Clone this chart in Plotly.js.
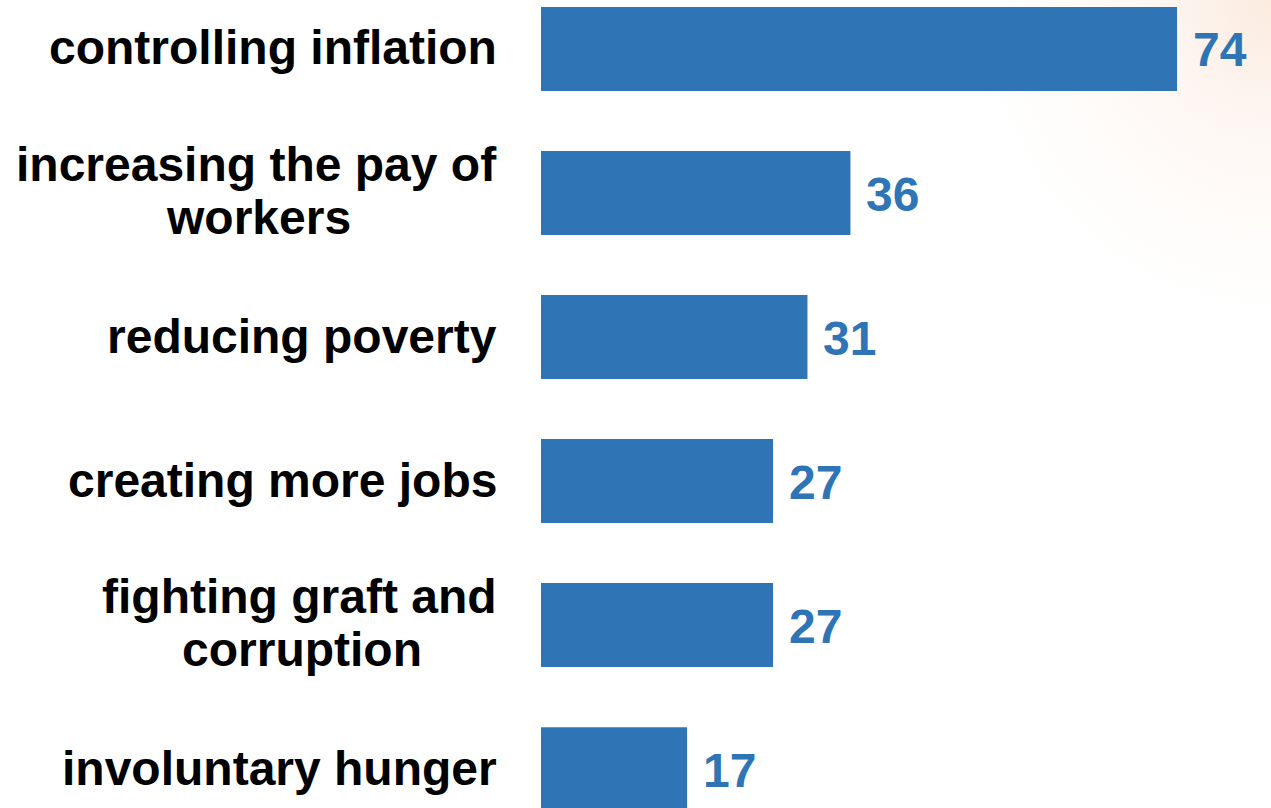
<!DOCTYPE html>
<html>
<head>
<meta charset="utf-8">
<script src="https://cdn.plot.ly/plotly-3.0.1.min.js"></script>
<style>
html, body { margin:0; padding:0; width:1271px; height:808px; overflow:hidden;
  background: radial-gradient(ellipse 300px 320px at 100% 0%, rgba(250,228,212,0.75) 0%, rgba(252,240,232,0.45) 45%, rgba(255,255,255,0) 100%), #ffffff; }
#chart { width:1271px; height:808px; }
</style>
</head>
<body>
<div id="chart"></div>
<script>
// Data
const categories = [
  ["controlling inflation"],
  ["increasing the pay of", "workers"],
  ["reducing poverty"],
  ["creating more jobs"],
  ["fighting graft and", "corruption"],
  ["involuntary hunger"]
];
const values = [74, 36, 31, 27, 27, 17];
const valueLabels = ["74", "36", "31", "27", "27", "17"];

const barColor = "#2f75b5";
const fontFamily = "'Liberation Sans', Arial, sans-serif";
const fontSize = 48;
const catKeys = categories.map(c => c.join(" "));

const ctx = document.createElement("canvas").getContext("2d");
ctx.font = "bold " + fontSize + "px 'Liberation Sans'";

const annotations = [];
categories.forEach((lines, i) => {
  if (lines.length === 1) {
    annotations.push({
      x: 0, xref: "paper", y: catKeys[i], yref: "y",
      xanchor: "right", yanchor: "middle", xshift: -42, yshift: 1,
      text: lines[0], showarrow: false,
      font: {family: fontFamily, size: fontSize, color: "#000", weight: 700}
    });
  } else {
    const w1 = ctx.measureText(lines[0]).width;
    annotations.push({
      x: 0, xref: "paper", y: catKeys[i], yref: "y",
      xanchor: "right", yanchor: "middle", xshift: -42, yshift: 29,
      text: lines[0], showarrow: false,
      font: {family: fontFamily, size: fontSize, color: "#000", weight: 700}
    });
    annotations.push({
      x: 0, xref: "paper", y: catKeys[i], yref: "y",
      xanchor: "center", yanchor: "middle", xshift: -42 - w1 / 2, yshift: -24,
      text: lines[1], showarrow: false,
      font: {family: fontFamily, size: fontSize, color: "#000", weight: 700}
    });
  }
  annotations.push({
    x: values[i], xref: "x", y: catKeys[i], yref: "y",
    xanchor: "left", yanchor: "middle", xshift: 14, yshift: -1,
    text: valueLabels[i], showarrow: false,
    font: {family: fontFamily, size: fontSize, color: barColor, weight: 700}
  });
});

const trace = {
  type: "bar", orientation: "h",
  x: values, y: catKeys,
  width: 0.583,
  marker: {color: barColor, line: {width: 0}},
  hoverinfo: "skip"
};

const layout = {
  width: 1271, height: 808,
  margin: {l: 541, r: 0, t: 0, b: 0, pad: 0},
  paper_bgcolor: "rgba(0,0,0,0)", plot_bgcolor: "rgba(0,0,0,0)",
  showlegend: false,
  xaxis: {range: [0, 84.93], visible: false, fixedrange: true},
  yaxis: {type: "category", categoryorder: "array", categoryarray: catKeys,
          range: [5.27, -0.34], visible: false, fixedrange: true},
  annotations: annotations
};

Plotly.newPlot("chart", [trace], layout, {displayModeBar: false, staticPlot: true});
</script>
</body>
</html>
